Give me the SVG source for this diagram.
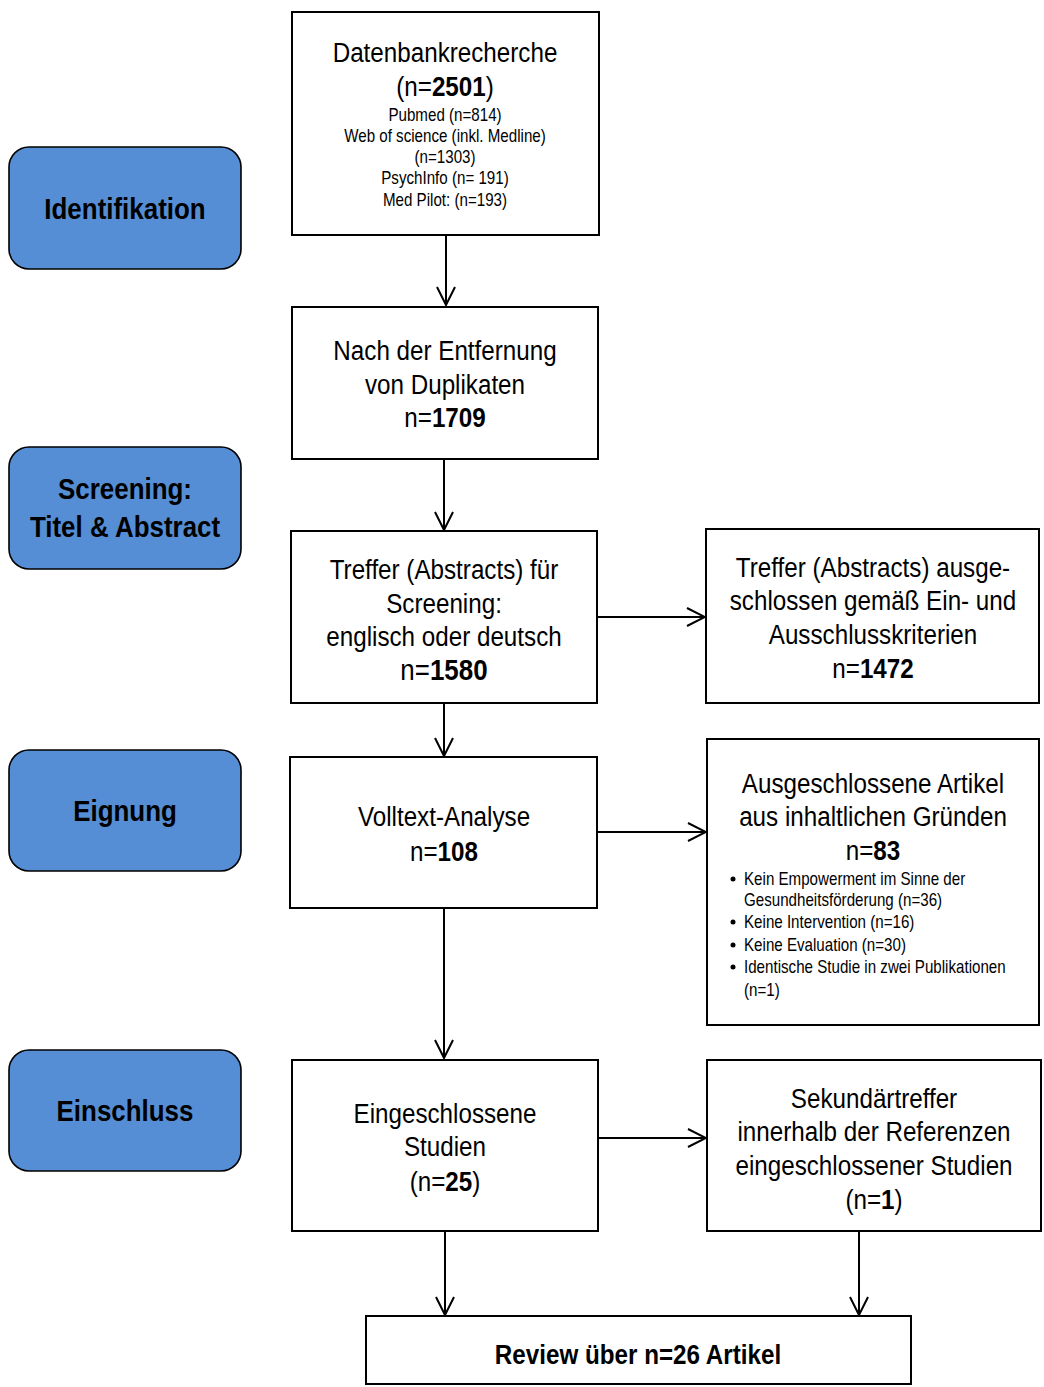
<svg xmlns="http://www.w3.org/2000/svg" width="1044" height="1387" viewBox="0 0 1044 1387">
<defs>
<style>
text{font-family:"Liberation Sans",Arial,sans-serif;fill:#000;text-anchor:middle}
.box{fill:#fff;stroke:#000;stroke-width:2}
.phase{fill:#558ED5;stroke:#000;stroke-width:1.6}
.big{font-size:28px}
.sm{font-size:17.5px}
.ph{font-size:30px;font-weight:bold}
.b{font-weight:bold}
.l{text-anchor:start}
.con line{stroke:#000;stroke-width:2;marker-end:url(#ah)}
</style>
<marker id="ah" viewBox="0 0 20 20" refX="19" refY="10" markerWidth="20" markerHeight="20" markerUnits="userSpaceOnUse" orient="auto">
<path d="M1,1 L19,10 L1,19" fill="none" stroke="#000" stroke-width="2"/>
</marker>
</defs>
<rect width="1044" height="1387" fill="#fff"/>

<g id="phase-identifikation"><rect class="phase" x="9" y="147" width="232" height="122" rx="20"/>
<g transform="translate(125 0) scale(0.865 1)"><text class="ph" x="0" y="219">Identifikation</text></g></g>
<g id="phase-screening"><rect class="phase" x="9" y="447" width="232" height="122" rx="20"/>
<g transform="translate(125 0) scale(0.865 1)"><text class="ph" x="0" y="499">Screening:</text><text class="ph" x="0" y="537">Titel &amp; Abstract</text></g></g>
<g id="phase-eignung"><rect class="phase" x="9" y="750" width="232" height="121" rx="20"/>
<g transform="translate(125 0) scale(0.865 1)"><text class="ph" x="0" y="821">Eignung</text></g></g>
<g id="phase-einschluss"><rect class="phase" x="9" y="1050" width="232" height="121" rx="20"/>
<g transform="translate(125 0) scale(0.865 1)"><text class="ph" x="0" y="1121">Einschluss</text></g></g>

<g id="datenbank"><rect class="box" x="292" y="12" width="307" height="223"/>
<g transform="translate(445 0) scale(0.865 1)">
<text class="big" x="0" y="62">Datenbankrecherche</text>
<text class="big" x="0" y="96">(n=<tspan class="b">2501</tspan>)</text>
<text class="sm" x="0" y="121">Pubmed (n=814)</text>
<text class="sm" x="0" y="142">Web of science (inkl. Medline)</text>
<text class="sm" x="0" y="163">(n=1303)</text>
<text class="sm" x="0" y="184">PsychInfo (n= 191)</text>
<text class="sm" x="0" y="206">Med Pilot: (n=193)</text>
</g></g>

<g id="duplikate"><rect class="box" x="292" y="307" width="306" height="152"/>
<g transform="translate(445 0) scale(0.865 1)">
<text class="big" x="0" y="360">Nach der Entfernung</text>
<text class="big" x="0" y="394">von Duplikaten</text>
<text class="big" x="0" y="427">n=<tspan class="b">1709</tspan></text>
</g></g>

<g id="screening"><rect class="box" x="291" y="531" width="306" height="172"/>
<g transform="translate(444 0) scale(0.865 1)">
<text class="big" x="0" y="579">Treffer (Abstracts) für</text>
<text class="big" x="0" y="613">Screening:</text>
<text class="big" x="0" y="646">englisch oder deutsch</text>
<text class="big" x="0" y="680" style="font-size:30px">n=<tspan class="b">1580</tspan></text>
</g></g>

<g id="ausgeschlossen-abstracts"><rect class="box" x="706" y="529" width="333" height="174"/>
<g transform="translate(873 0) scale(0.865 1)">
<text class="big" x="0" y="577">Treffer (Abstracts) ausge-</text>
<text class="big" x="0" y="610">schlossen gemäß Ein- und</text>
<text class="big" x="0" y="644">Ausschlusskriterien</text>
<text class="big" x="0" y="678">n=<tspan class="b">1472</tspan></text>
</g></g>

<g id="volltext"><rect class="box" x="290" y="757" width="307" height="151"/>
<g transform="translate(444 0) scale(0.865 1)">
<text class="big" x="0" y="826">Volltext-Analyse</text>
<text class="big" x="0" y="861">n=<tspan class="b">108</tspan></text>
</g></g>

<g id="ausgeschlossen-artikel"><rect class="box" x="707" y="739" width="332" height="286"/>
<g transform="translate(873 0) scale(0.865 1)">
<text class="big" x="0" y="793">Ausgeschlossene Artikel</text>
<text class="big" x="0" y="826">aus inhaltlichen Gründen</text>
<text class="big" x="0" y="860">n=<tspan class="b">83</tspan></text>
</g>
<circle cx="733" cy="879" r="2.5"/>
<circle cx="733" cy="922" r="2.5"/>
<circle cx="733" cy="945" r="2.5"/>
<circle cx="733" cy="967" r="2.5"/>
<g transform="translate(744 0) scale(0.865 1)">
<text class="sm l" x="0" y="885">Kein Empowerment im Sinne der</text>
<text class="sm l" x="0" y="906">Gesundheitsförderung (n=36)</text>
<text class="sm l" x="0" y="928">Keine Intervention (n=16)</text>
<text class="sm l" x="0" y="951">Keine Evaluation (n=30)</text>
<text class="sm l" x="0" y="973">Identische Studie in zwei Publikationen</text>
<text class="sm l" x="0" y="996">(n=1)</text>
</g></g>

<g id="eingeschlossen"><rect class="box" x="292" y="1060" width="306" height="171"/>
<g transform="translate(445 0) scale(0.865 1)">
<text class="big" x="0" y="1123">Eingeschlossene</text>
<text class="big" x="0" y="1156">Studien</text>
<text class="big" x="0" y="1191">(n=<tspan class="b">25</tspan>)</text>
</g></g>

<g id="sekundaer"><rect class="box" x="707" y="1060" width="334" height="171"/>
<g transform="translate(874 0) scale(0.865 1)">
<text class="big" x="0" y="1108">Sekundärtreffer</text>
<text class="big" x="0" y="1141">innerhalb der Referenzen</text>
<text class="big" x="0" y="1175">eingeschlossener Studien</text>
<text class="big" x="0" y="1209">(n=<tspan class="b">1</tspan>)</text>
</g></g>

<g id="review"><rect class="box" x="366" y="1316" width="545" height="68"/>
<g transform="translate(638 0) scale(0.865 1)">
<text class="big b" x="0" y="1364">Review über n=26 Artikel</text>
</g></g>

<g id="connectors" class="con">
<line x1="446" y1="235" x2="446" y2="305"/>
<line x1="444" y1="459" x2="444" y2="530"/>
<line x1="597" y1="617" x2="705" y2="617"/>
<line x1="444" y1="703" x2="444" y2="756"/>
<line x1="597" y1="832" x2="706" y2="832"/>
<line x1="444" y1="908" x2="444" y2="1058"/>
<line x1="598" y1="1138" x2="706" y2="1138"/>
<line x1="445" y1="1231" x2="445" y2="1315"/>
<line x1="859" y1="1231" x2="859" y2="1315"/>
</g>
</svg>
